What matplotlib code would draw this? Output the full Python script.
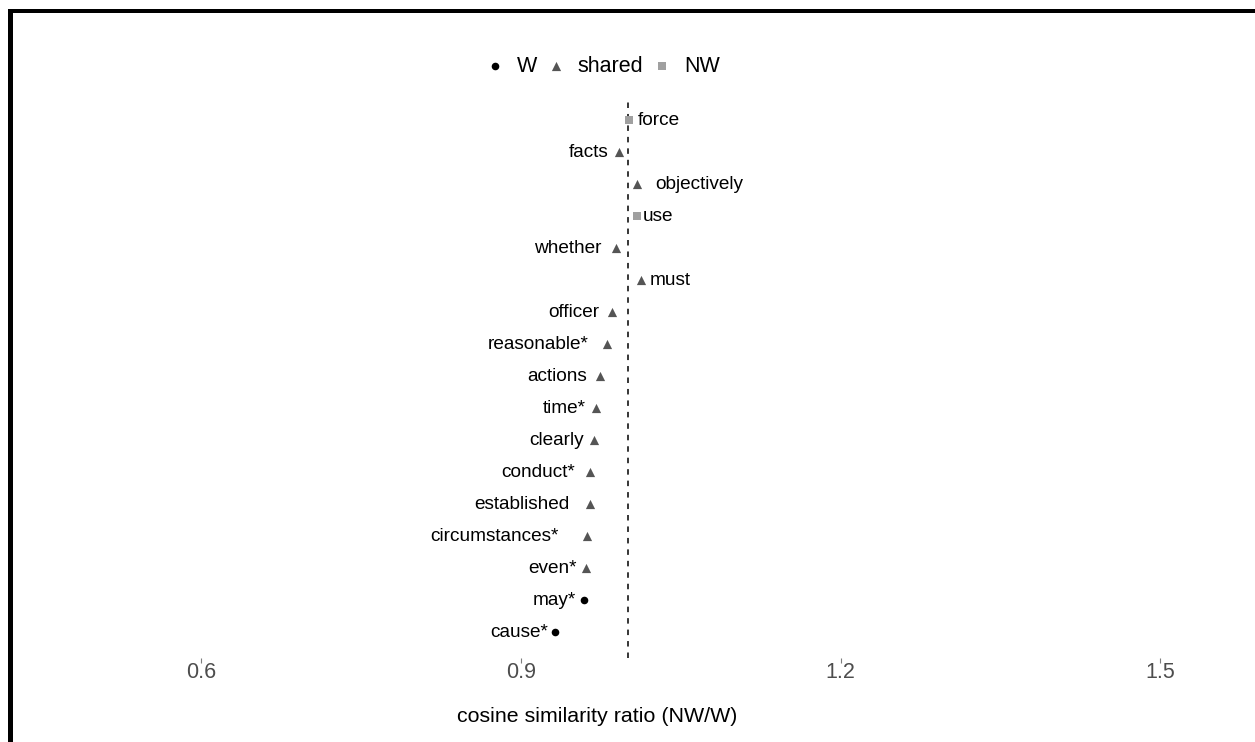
import matplotlib.pyplot as plt
from matplotlib.patches import Rectangle

# words, top to bottom
words = ['force', 'facts', 'objectively', 'use', 'whether', 'must', 'officer',
         'reasonable*', 'actions', 'time*', 'clearly', 'conduct*', 'established',
         'circumstances*', 'even*', 'may*', 'cause*']
ratio = [1.001, 0.992, 1.009, 1.009, 0.989, 1.013, 0.985,
         0.981, 0.974, 0.970, 0.969, 0.965, 0.965,
         0.962, 0.961, 0.959, 0.932]
group = ['NW', 'shared', 'shared', 'NW', 'shared', 'shared', 'shared',
         'shared', 'shared', 'shared', 'shared', 'shared', 'shared',
         'shared', 'shared', 'W', 'W']
ticks = [0.6, 0.9, 1.2, 1.5]

# label placement (pixels from the point, negative = left side)
label_gap = [9, -10, 18, 6, -14, 8, -12, -19, -13, -10, -11, -15, -21, -28, -9, -8, -7]

styles = {
    'W': dict(marker='o', color='black', s=30),
    'shared': dict(marker='^', color='#555555', s=44),
    'NW': dict(marker='s', color='#a0a0a0', s=34),
}

plt.rcParams['font.family'] = ['Liberation Sans', 'DejaVu Sans']

W, H = 1255, 742
fig = plt.figure(figsize=(W / 100, H / 100), dpi=100)
ax = fig.add_axes([0, 1 - 658 / H, 1, 561 / H])

n = len(words)
ypos = [n - 1 - i for i in range(n)]

ax.axvline(1.0, color='black', lw=1.1, ls=(0, (3.6, 3.9)), zorder=1)

for g in ['W', 'shared', 'NW']:
    xs = [r for r, gg in zip(ratio, group) if gg == g]
    ys = [y for y, gg in zip(ypos, group) if gg == g]
    ax.scatter(xs, ys, label=g, zorder=3, linewidths=0, **styles[g])

for w, r, y, gap in zip(words, ratio, ypos, label_gap):
    ax.annotate(w, (r, y), xytext=(gap, 0), textcoords='offset pixels',
                ha='left' if gap > 0 else 'right', va='center',
                fontsize=13.7, color='black')

ax.set_xlim(0.4108, 1.5892)
ax.set_ylim(-0.8125, 16.719)
ax.set_xticks(ticks)
ax.set_xticklabels([f'{t:.1f}' for t in ticks])
ax.tick_params(axis='x', length=3.6, width=0.8, color='#7f7f7f', pad=-0.8,
               labelsize=15.5, labelcolor='#4d4d4d')
ax.set_yticks([])
for sp in ax.spines.values():
    sp.set_visible(False)

ax.set_xlabel('cosine similarity ratio (NW/W)', fontsize=15.4)
ax.xaxis.label.set_va('center')
ax.xaxis.set_label_coords(597 / W, (658 - 717) / 561)

fig.legend(loc='center', bbox_to_anchor=(603 / W, 1 - 66 / H), ncol=3,
           frameon=False, fontsize=15.5, scatterpoints=1, handlelength=0.8,
           handletextpad=0.62, columnspacing=0.48, borderpad=0)

# thick frame on the top and left edge
fig.add_artist(Rectangle((8 / W, 1 - 13 / H), 1, 4 / H, transform=fig.transFigure,
                         color='black', lw=0))
fig.add_artist(Rectangle((8 / W, 0), 5 / W, 1 - 9 / H, transform=fig.transFigure,
                         color='black', lw=0))

fig.savefig('out.png', dpi=100, facecolor='white')
